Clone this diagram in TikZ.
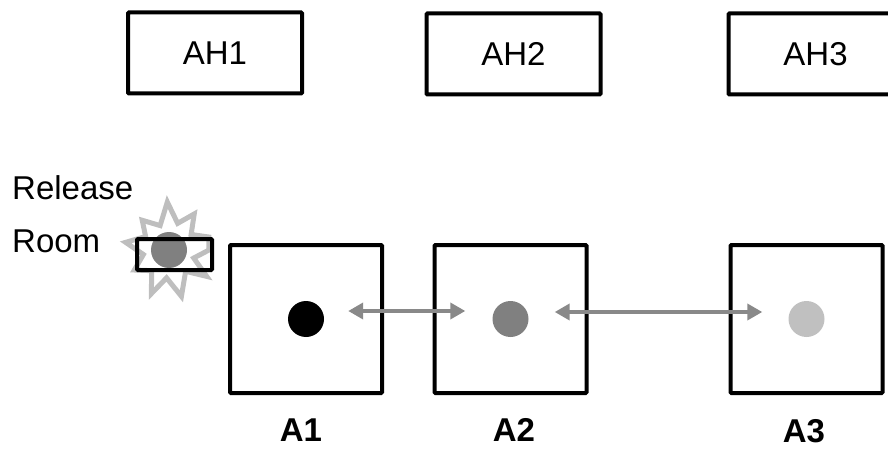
\documentclass[tikz,border=0pt]{standalone}
\usepackage{fontspec}
\setmainfont{Liberation Sans}
\usetikzlibrary{arrows.meta, math}
\definecolor{arrowgray}{HTML}{898989}
\definecolor{midgray}{HTML}{808080}
\definecolor{palegray}{HTML}{C0C0C0}
\definecolor{burstgray}{HTML}{BEBEBE}

\begin{document}
\begin{tikzpicture}[x=1pt,y=-1pt,
  bigfont/.style={font=\fontsize{33}{40}\selectfont},
  ahbox/.style={draw,line width=4pt,rounded corners=1pt,minimum width=174pt,minimum height=81pt,bigfont},
  roombox/.style={draw,line width=4pt,rounded corners=1pt,minimum width=152pt,minimum height=148pt},
  dot/.style={circle,minimum size=36pt,inner sep=0pt},
  flow/.style={{Triangle[length=15pt,width=16pt]}-{Triangle[length=15pt,width=16pt]},line width=4.5pt,arrowgray},
  burst/.style={draw=burstgray,line width=5pt},
  rlabel/.style={font=\fontsize{33}{40}\selectfont\bfseries,inner sep=0pt}]
\tikzmath{
\h=319;
}
\useasboundingbox (0,0) rectangle (888,449);

% attic boxes
\node[ahbox] (ah1) at (215,53) {AH1};
\node[ahbox] (ah2) at (513.5,54) {AH2};
\node[ahbox] (ah3) at (815.5,54) {AH3};

% release room with flash
\begin{scope}[shift={(169,250)}]
\draw[burst] (0:40) \foreach \a/\r in {18/26,35/46,52/27,75/48,95/28,112/47,130/27,150/40,170/26,190/44,210/27,228/40,250/26,268/48,288/28,305/44,325/27,342/42} {-- (\a:\r)} -- cycle;
\end{scope}
\node[dot,fill=midgray] (d0) at (169,250) {};
\node[draw,line width=4pt,rounded corners=1pt,minimum width=75pt,minimum height=31pt] (rel) at (174.5,254.5) {};
\node[bigfont,anchor=base west,inner sep=0pt] (t1) at (12,200) {Release};
\node[bigfont,anchor=base west,inner sep=0pt] (t2) at (12,252) {Room};

% rooms
\node[roombox] (a1) at (306,\h) {};
\node[roombox] (a2) at (510.5,\h) {};
\node[roombox] (a3) at (806.5,\h) {};
\node[dot,fill=black] (d1) at (a1.center) {};
\node[dot,fill=midgray] (d2) at (a2.center) {};
\node[dot,fill=palegray] (d3) at (a3.center) {};

\draw[flow,shorten <=24pt,shorten >=27pt] ([yshift=8pt]d1.east) -- ([yshift=8pt]d2.west);
\draw[flow,shorten <=26pt,shorten >=26pt] ([yshift=7pt]d2.east) -- ([yshift=7pt]d3.west);

\node[rlabel] (l1) at (301,430) {A1};
\node[rlabel] (l2) at (514,430) {A2};
\node[rlabel] (l3) at (804,431) {A3};
\end{tikzpicture}
\end{document}
